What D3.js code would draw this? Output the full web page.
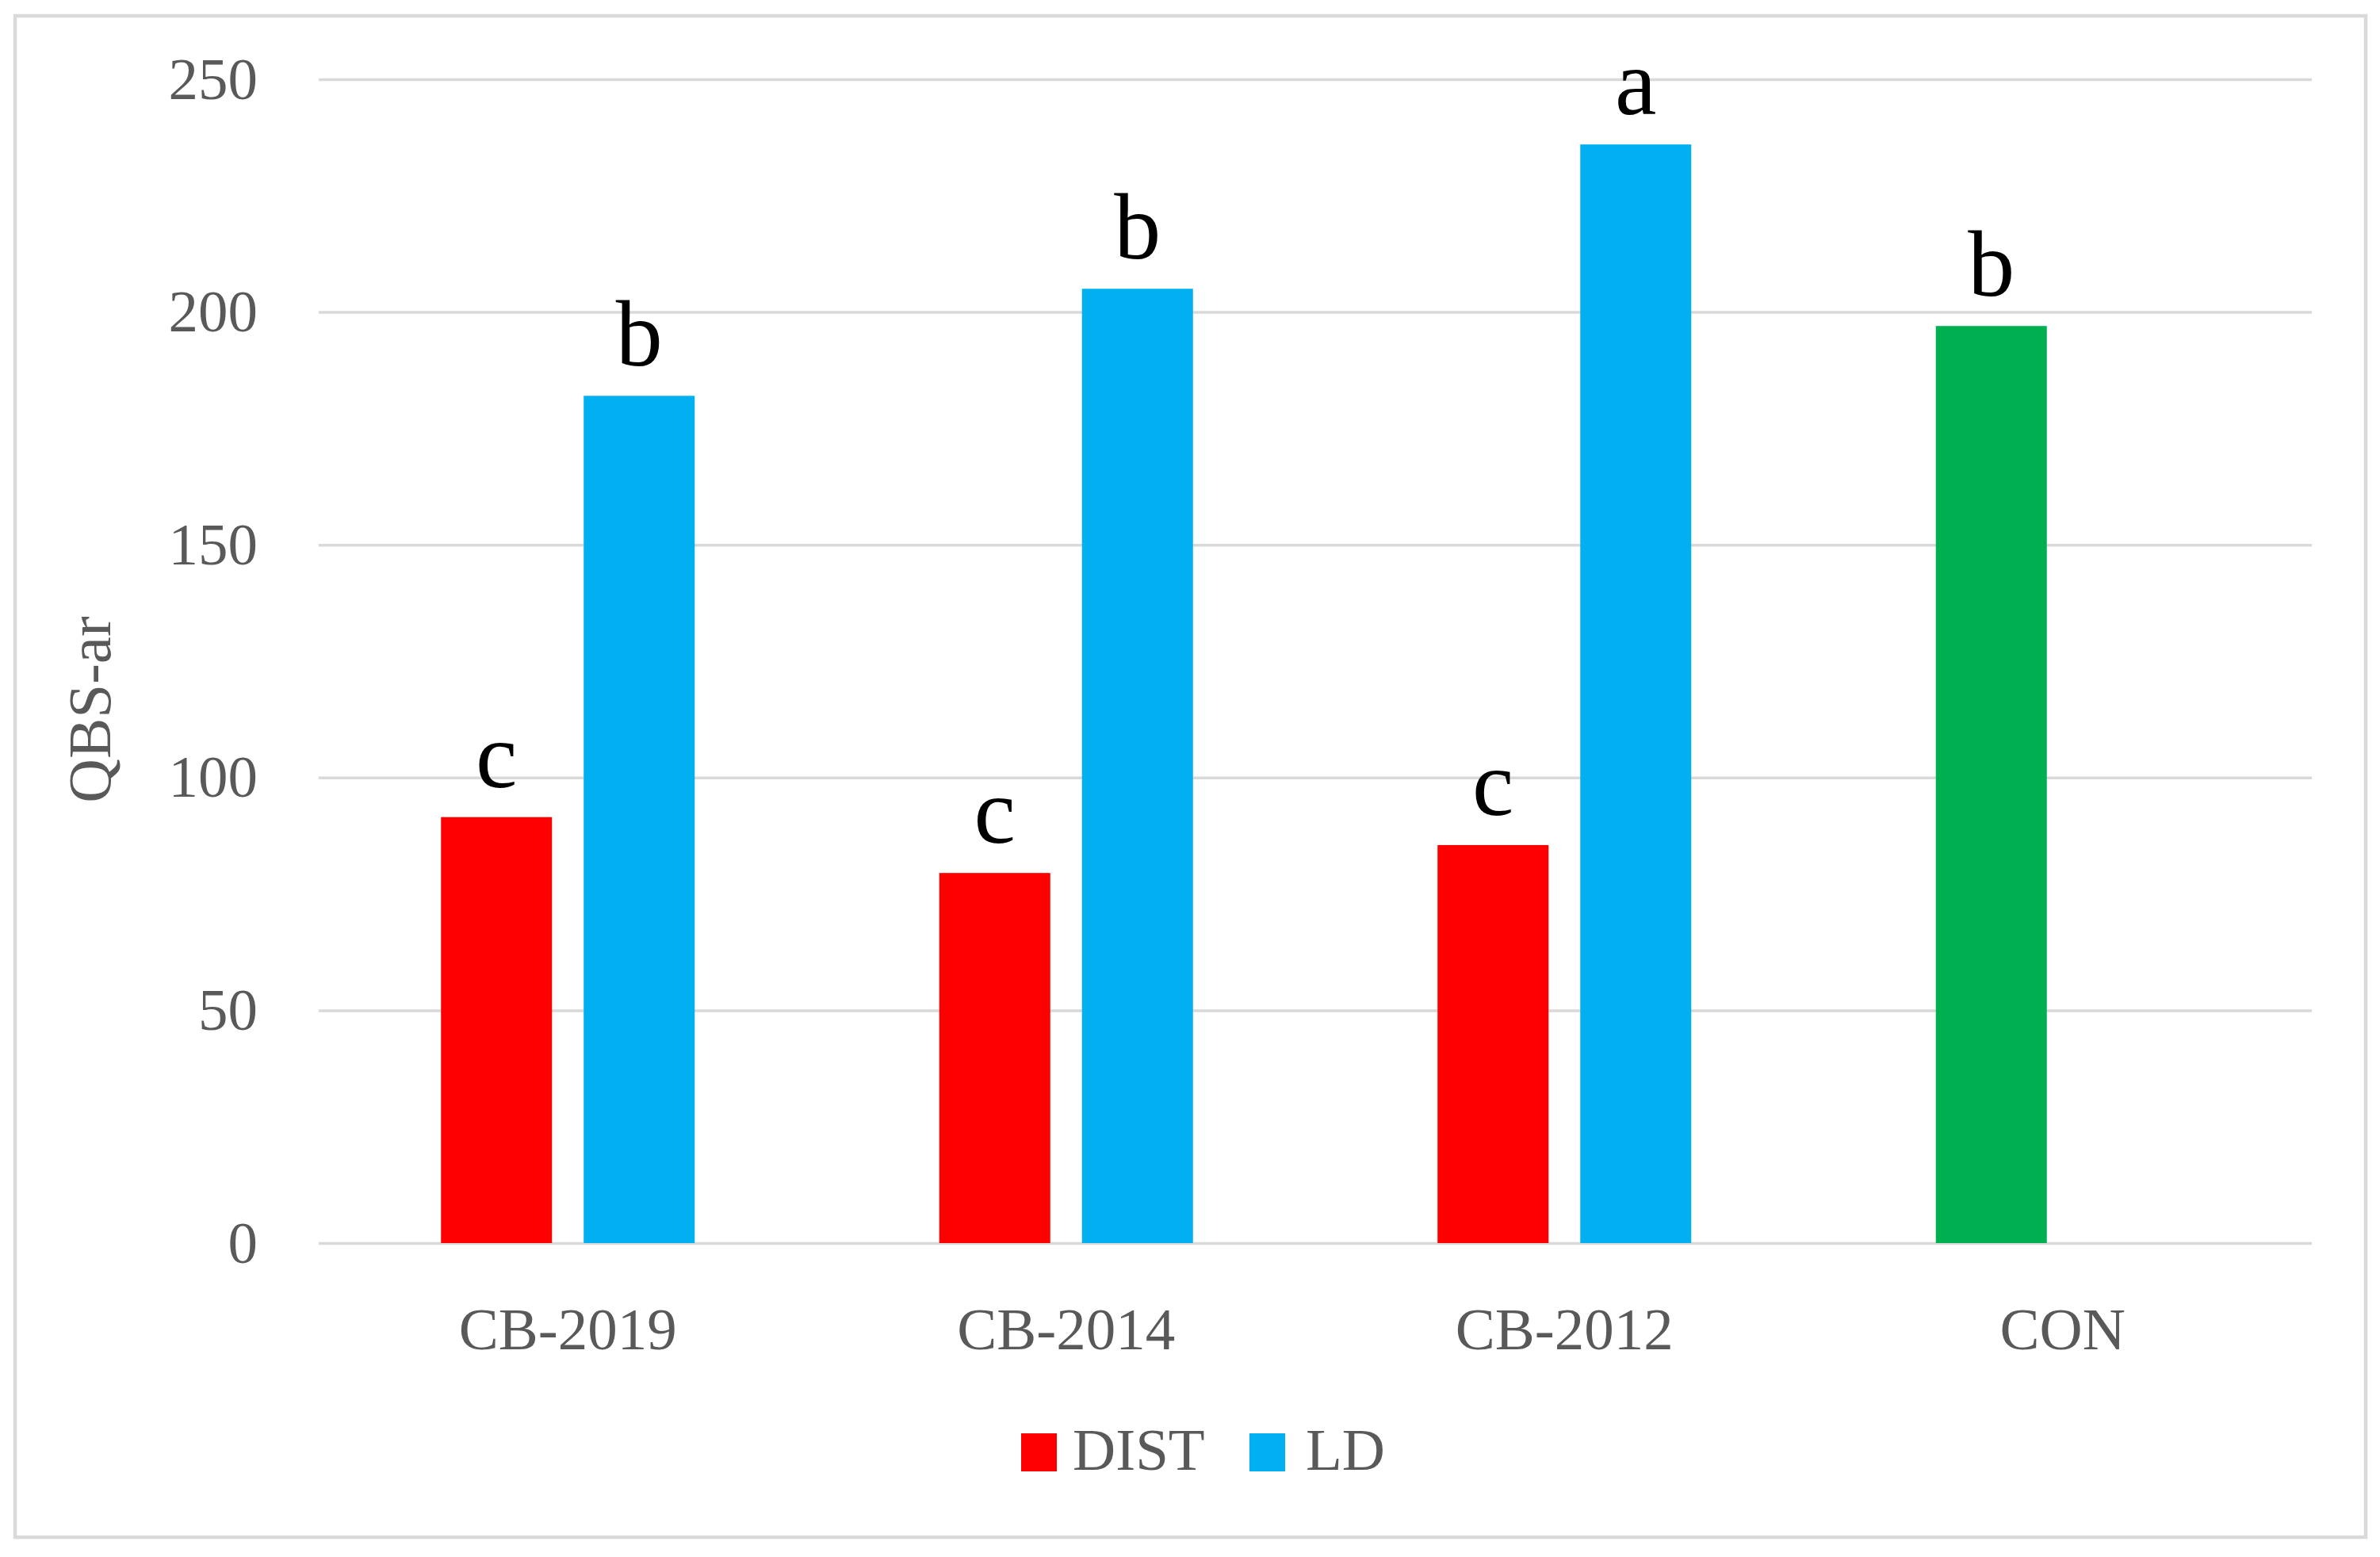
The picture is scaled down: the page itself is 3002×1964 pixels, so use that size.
<!DOCTYPE html>
<html>
<head>
<meta charset="utf-8">
<script src="https://cdn.jsdelivr.net/npm/d3@7/dist/d3.min.js"></script>
<style>
  html, body { margin: 0; padding: 0; background: #ffffff; }
  svg { display: block; }
  text { font-family: "Liberation Serif", "Times New Roman", serif; }
</style>
</head>
<body>
<script>
// ---- data ----
const categories = ["CB-2019", "CB-2014", "CB-2012", "CON"];
const seriesNames = ["DIST", "LD"];
const distValues = [91.5, 79.5, 85.5, 197];
const ldValues = [182, 205, 236, null];
const distLetters = ["c", "c", "c", "b"];
const ldLetters = ["b", "b", "a", null];
const seriesColors = ["#FF0000", "#00B0F0"];
const conColor = "#00B050";
const yTicks = [0, 50, 100, 150, 200, 250];

// ---- layout ----
const W = 3002, H = 1964;
const plot = { left: 402, right: 2916, top: 100, bottom: 1568 };

const svg = d3.select("body").append("svg")
  .attr("width", W).attr("height", H)
  .attr("viewBox", `0 0 ${W} ${H}`);

svg.append("rect").attr("x", 0).attr("y", 0).attr("width", W).attr("height", H).attr("fill", "#fff");

// outer frame
svg.append("rect")
  .attr("x", 19).attr("y", 20).attr("width", 2965).attr("height", 1919)
  .attr("fill", "none").attr("stroke", "#d9d9d9").attr("stroke-width", 4.5);

const y = d3.scaleLinear().domain([0, 250]).range([plot.bottom, plot.top]);
const x0 = d3.scaleBand().domain(categories).range([plot.left, plot.right]).padding(0);
const groupW = 320;
const x1 = d3.scaleBand().domain(seriesNames).range([0, groupW]).paddingInner(0.2222).paddingOuter(0);

// gridlines + y axis labels via d3.axisLeft
const yAxis = d3.axisLeft(y).tickValues(yTicks).tickSize(-(plot.right - plot.left)).tickPadding(77);
const gy = svg.append("g").attr("transform", `translate(${plot.left},0)`).call(yAxis);
gy.select(".domain").remove();
gy.selectAll(".tick line").attr("stroke", "#d9d9d9").attr("stroke-width", 3.5);
gy.selectAll(".tick text")
  .attr("fill", "#595959")
  .attr("font-size", 75)
  .attr("font-family", "Liberation Serif, serif")
  .attr("dy", "0.32em");

// x axis labels via d3.axisBottom
const xAxis = d3.axisBottom(x0).tickSize(0).tickPadding(0);
const gx = svg.append("g").attr("transform", `translate(0,${plot.bottom})`).call(xAxis);
gx.select(".domain").remove();
gx.selectAll(".tick text")
  .attr("fill", "#595959")
  .attr("font-size", 75)
  .attr("font-family", "Liberation Serif, serif")
  .attr("y", 0).attr("dy", 0)
  .attr("transform", "translate(0,134)");

// bars
const rows = categories.map((c, i) => ({
  cat: c,
  vals: [
    { s: "DIST", v: distValues[i], letter: distLetters[i], color: c === "CON" ? conColor : seriesColors[0] },
    { s: "LD", v: ldValues[i], letter: ldLetters[i], color: seriesColors[1] }
  ].filter(d => d.v != null)
}));

const groups = svg.append("g").selectAll("g").data(rows).join("g")
  .attr("transform", d => `translate(${x0(d.cat) + x0.bandwidth() / 2 - groupW / 2},0)`);

groups.selectAll("rect").data(d => d.vals).join("rect")
  .attr("x", d => x1(d.s))
  .attr("width", x1.bandwidth())
  .attr("y", d => y(d.v))
  .attr("height", d => y(0) - y(d.v))
  .attr("fill", d => d.color);

groups.selectAll("text.lbl").data(d => d.vals.filter(v => v.letter)).join("text")
  .attr("class", "lbl")
  .attr("x", d => x1(d.s) + x1.bandwidth() / 2)
  .attr("y", d => y(d.v) - 38)
  .attr("text-anchor", "middle")
  .attr("font-size", 118)
  .attr("fill", "#000")
  .text(d => d.letter);

// y axis title
svg.append("text")
  .attr("transform", "translate(139,895) rotate(-90)")
  .attr("text-anchor", "middle")
  .attr("font-size", 77)
  .attr("fill", "#595959")
  .text("QBS-ar");

// legend
const legendItems = [
  { name: seriesNames[0], color: seriesColors[0], rx: 1288, tx: 1353 },
  { name: seriesNames[1], color: seriesColors[1], rx: 1576, tx: 1647 }
];
const lg = svg.append("g");
lg.selectAll("rect").data(legendItems).join("rect")
  .attr("x", d => d.rx).attr("y", 1808).attr("width", 45).attr("height", 48)
  .attr("fill", d => d.color);
lg.selectAll("text").data(legendItems).join("text")
  .attr("x", d => d.tx).attr("y", 1854)
  .attr("font-size", 75)
  .attr("fill", "#595959")
  .text(d => d.name);
</script>
</body>
</html>
